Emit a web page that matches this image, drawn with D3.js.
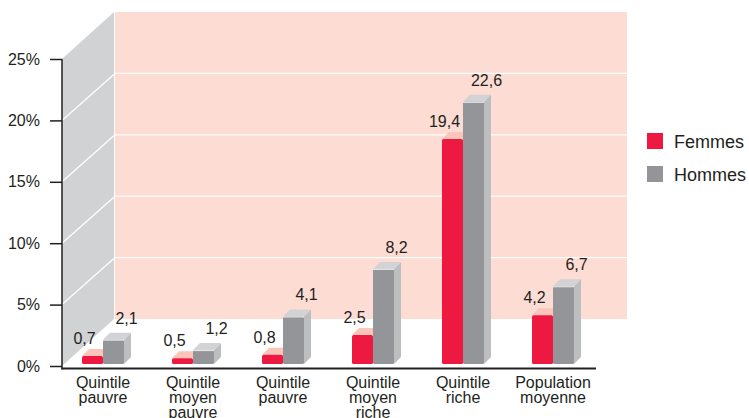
<!DOCTYPE html>
<html>
<head>
<meta charset="utf-8">
<script src="https://cdn.jsdelivr.net/npm/d3@7"></script>
<style>
  body { margin: 0; background: #fff; }
  svg { display: block; font-family: "Liberation Sans", Arial, Helvetica, sans-serif; }
</style>
</head>
<body>
<svg id="chart" width="749" height="418"></svg>
<script>
// Chart data
const categories = [
  ["Quintile", "pauvre"],
  ["Quintile", "moyen", "pauvre"],
  ["Quintile", "pauvre"],
  ["Quintile", "moyen", "riche"],
  ["Quintile", "riche"],
  ["Population", "moyenne"]
];
const femmes = [0.7, 0.5, 0.8, 2.5, 19.4, 4.2];
const hommes = [2.1, 1.2, 4.1, 8.2, 22.6, 6.7];
const yTicks = [0, 5, 10, 15, 20, 25];
const seriesNames = ["Femmes", "Hommes"];

const COLORS = {
  red: "#ed1941", redTop: "#fbc6b9",
  gray: "#939598", grayTop: "#d1d3d4", graySide: "#bcbec0",
  wall: "#fddcd4", side: "#d1d2d4", text: "#231f20"
};

const svg = d3.select("#chart");

// depth offset of the 3D box
const axisX = 62;
const DX = 53, DY = -47;
const wallRight = 627;

const yAxis = d3.scaleLinear().domain([0, 25]).range([366, 59]);
// bars sit a bit behind the front plane
const yBar = d3.scaleLinear().domain([0, 25]).range([364, 74]);
const x = d3.scalePoint().domain(d3.range(categories.length)).range([103, 553]);

const barW = 21, depth = 7;

// Back wall
svg.append("rect")
  .attr("x", axisX + DX)
  .attr("y", yAxis(25) + DY)
  .attr("width", wallRight - (axisX + DX))
  .attr("height", yAxis(0) - yAxis(25))
  .attr("fill", COLORS.wall);

// Side wall
svg.append("polygon")
  .attr("points", [
    [axisX, yAxis(0)], [axisX, yAxis(25)],
    [axisX + DX - 1, yAxis(25) + DY], [axisX + DX - 1, yAxis(0) + DY]
  ].map(p => p.join(",")).join(" "))
  .attr("fill", COLORS.side);

// Grid lines on both walls
yTicks.filter(t => t > 0 && t < 25).forEach(t => {
  svg.append("line")
    .attr("x1", axisX).attr("y1", yAxis(t))
    .attr("x2", axisX + DX).attr("y2", yAxis(t) + DY)
    .attr("stroke", "#fff").attr("stroke-width", 1.3);
  svg.append("line")
    .attr("x1", axisX + DX).attr("y1", yAxis(t) + DY)
    .attr("x2", wallRight).attr("y2", yAxis(t) + DY)
    .attr("stroke", "#fff").attr("stroke-width", 1.3);
});

// Y axis
const axisG = svg.append("g")
  .attr("transform", `translate(${axisX},0)`)
  .call(d3.axisLeft(yAxis)
    .tickValues(yTicks)
    .tickFormat(d => d + "%")
    .tickSize(12)
    .tickSizeOuter(0)
    .tickPadding(10));
axisG.select(".domain").remove();
axisG.selectAll("line").attr("stroke", "#231f20").attr("stroke-width", 1.5);
axisG.selectAll("text")
  .attr("font-size", "16px")
  .attr("fill", COLORS.text)
  .attr("font-family", "Liberation Sans, Arial, sans-serif");

svg.append("line")
  .attr("x1", axisX).attr("y1", yAxis(25))
  .attr("x2", axisX).attr("y2", 369.5)
  .attr("stroke", "#231f20").attr("stroke-width", 1.5);
svg.append("line")
  .attr("x1", axisX - 0.5).attr("y1", 368.5)
  .attr("x2", 596).attr("y2", 368.5)
  .attr("stroke", "#231f20").attr("stroke-width", 2);

// 3D bar helper
function drawBar(x0, value, front, top, side) {
  const yTop = yBar(value), y0 = yBar(0);
  const g = svg.append("g");
  if (side) {
    g.append("polygon")
      .attr("points", [[x0 + barW, yTop], [x0 + barW + depth, yTop - depth],
        [x0 + barW + depth, y0 - depth], [x0 + barW, y0]].map(p => p.join(",")).join(" "))
      .attr("fill", side);
  }
  g.append("polygon")
    .attr("points", [[x0, yTop], [x0 + depth, yTop - depth],
      [x0 + barW + depth, yTop - depth], [x0 + barW, yTop]].map(p => p.join(",")).join(" "))
    .attr("fill", top);
  g.append("rect")
    .attr("x", x0).attr("y", yTop)
    .attr("width", barW).attr("height", y0 - yTop)
    .attr("rx", 1.5)
    .attr("fill", front);
}

categories.forEach((cat, i) => {
  const c = x(i);
  drawBar(c - barW, femmes[i], COLORS.red, COLORS.redTop, null);
  drawBar(c, hommes[i], COLORS.gray, COLORS.grayTop, COLORS.graySide);
  // thin light edge on top of the gray bar
  svg.append("line")
    .attr("x1", c).attr("y1", yBar(hommes[i]) + 0.5)
    .attr("x2", c + barW).attr("y2", yBar(hommes[i]) + 0.5)
    .attr("stroke", "#eceded").attr("stroke-width", 1);

  svg.append("text")
    .attr("x", c - barW / 2 - 8)
    .attr("y", yBar(femmes[i]) - 12)
    .attr("text-anchor", "middle")
    .attr("font-size", "16px")
    .attr("fill", COLORS.text)
    .text(String(femmes[i]).replace(".", ","));
  svg.append("text")
    .attr("x", c + barW / 2 + 13)
    .attr("y", yBar(hommes[i]) - 16)
    .attr("text-anchor", "middle")
    .attr("font-size", "16px")
    .attr("fill", COLORS.text)
    .text(String(hommes[i]).replace(".", ","));

  // category label
  const t = svg.append("text")
    .attr("text-anchor", "middle")
    .attr("font-size", "16px")
    .attr("fill", COLORS.text);
  cat.forEach((line, j) => {
    t.append("tspan").attr("x", c).attr("y", 388 + j * 15).text(line);
  });
});

// Legend
const legendColors = [COLORS.red, COLORS.gray];
seriesNames.forEach((name, i) => {
  svg.append("rect")
    .attr("x", 647).attr("y", 133 + i * 33)
    .attr("width", 16).attr("height", 16)
    .attr("fill", legendColors[i]);
  svg.append("text")
    .attr("x", 674).attr("y", 148 + i * 33)
    .attr("font-size", "18px")
    .attr("fill", COLORS.text)
    .text(name);
});
</script>
</body>
</html>
